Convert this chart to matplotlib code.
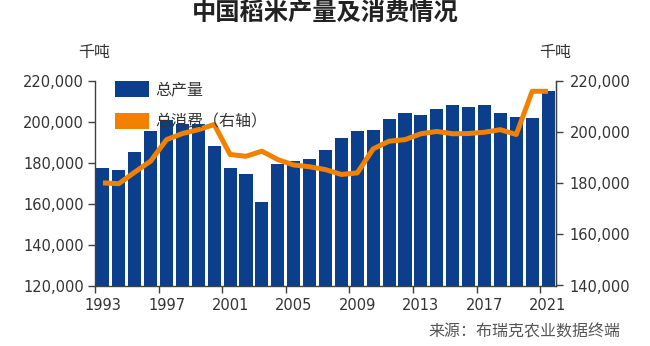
import matplotlib
matplotlib.use('Agg')
import matplotlib.pyplot as plt
from matplotlib.patches import Patch
from matplotlib.ticker import FuncFormatter, FixedLocator
import numpy as np

years = list(range(1993, 2022))
production = [177500, 176200, 185300, 195300, 200800, 198700, 198800, 188100,
              177500, 174600, 160700, 179200, 180600, 181900, 186200, 192000,
              195300, 195800, 201200, 204400, 203400, 206400, 208300, 207200,
              208000, 204300, 202200, 201700, 215000]
consumption = [180100, 179800, 184300, 188600, 197000, 199400, 200900, 202900,
               191200, 190500, 192500, 189200, 187100, 186400, 185300, 183400,
               184000, 193400, 196400, 197000, 199300, 200200, 199300, 199400,
               199900, 200900, 199000, 215900, 215900]
left_ticks = [120000, 140000, 160000, 180000, 200000, 220000]
right_ticks = [140000, 160000, 180000, 200000, 220000]
series_names = ['总产量', '总消费（右轴）']
title = '中国稻米产量及消费情况'
unit = '千吨'
source = '来源：布瑞克农业数据终端'

plt.rcParams['font.family'] = ['DejaVu Sans', 'Noto Sans CJK SC']
cjk = ['Noto Sans CJK SC', 'DejaVu Sans']

BLUE = '#0B3F8C'
ORANGE = '#F28100'
AX_COL = '#404040'
TXT = '#333333'

fig = plt.figure(figsize=(6.5, 3.46), dpi=100)
ax = fig.add_axes([95/650, 1-285.5/346, 461/650, 204.7/346])
x = np.arange(len(years))
ax.bar(x, production, width=0.82, color=BLUE, zorder=2)
ax.set_xlim(-0.5, len(years) - 0.5)
ax.set_ylim(left_ticks[0], left_ticks[-1])
ax.set_yticks(left_ticks)
fmt = FuncFormatter(lambda v, p: f'{int(v):,}')
ax.yaxis.set_major_formatter(fmt)

ax.set_xticks(x[::4])
ax.set_xticklabels([str(y) for y in years[::4]])
ax.xaxis.set_minor_locator(FixedLocator(list(np.arange(-0.5, len(years) - 0.5, 4))))
ax.tick_params(axis='x', which='major', length=0, pad=9, labelsize=10.5, labelcolor=TXT)
ax.tick_params(axis='x', which='minor', length=5, width=1, color=AX_COL, direction='out')
ax.tick_params(axis='y', length=5, width=1, color=AX_COL, pad=3, labelsize=10.5, labelcolor=TXT)

for s in ['top']:
    ax.spines[s].set_visible(False)
for s in ['left', 'bottom', 'right']:
    ax.spines[s].set_color(AX_COL)
    ax.spines[s].set_linewidth(1)

ax2 = ax.twinx()
ax2.plot(x, consumption, color=ORANGE, lw=3.6, solid_joinstyle='round',
         solid_capstyle='butt', zorder=3)
ax2.set_ylim(right_ticks[0], right_ticks[-1])
ax2.set_yticks(right_ticks)
ax2.yaxis.set_major_formatter(fmt)
ax2.tick_params(axis='y', length=5, width=1, color=AX_COL, pad=5, labelsize=10.5, labelcolor=TXT)
ax2.spines['top'].set_visible(False)
ax2.spines['right'].set_color(AX_COL)
ax2.spines['left'].set_visible(False)
ax2.spines['bottom'].set_visible(False)

handles = [Patch(facecolor=BLUE, edgecolor='none'),
           Patch(facecolor=ORANGE, edgecolor='none')]
leg = ax2.legend(handles, series_names, loc='upper left',
                 bbox_to_anchor=(20/461, 1.0), frameon=False,
                 prop={'family': cjk, 'size': 11.5},
                 handlelength=2.1, handleheight=1.2, handletextpad=0.45,
                 labelspacing=0.9, borderpad=0, borderaxespad=0)
for t in leg.get_texts():
    t.set_color(TXT)

fig.text(0.5, 1 - 14/346, title, ha='center', va='center', fontsize=17.5,
         fontweight='bold', family=cjk, color='#222222')
fig.text(94/650, 1 - 52/346, unit, ha='center', va='center', fontsize=11.5,
         family=cjk, color=TXT)
fig.text(555/650, 1 - 52/346, unit, ha='center', va='center', fontsize=11.5,
         family=cjk, color=TXT)
fig.text(620/650, 1 - 332/346, source, ha='right', va='center', fontsize=11.5,
         family=cjk, color='#555555')

fig.savefig('out.png', dpi=100)
